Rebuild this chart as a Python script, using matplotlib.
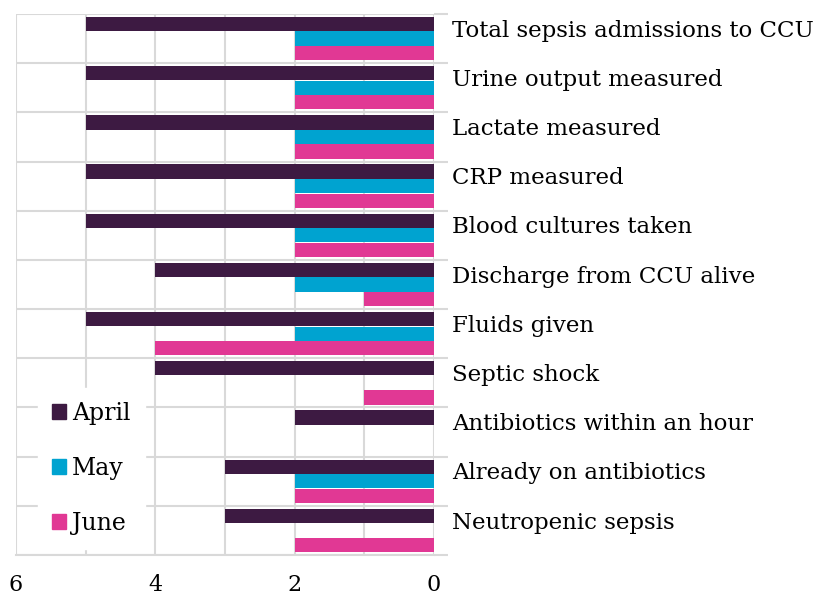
import numpy as np
import matplotlib.pyplot as plt
from matplotlib.patches import Patch
from matplotlib.ticker import MultipleLocator
from matplotlib.transforms import blended_transform_factory

# данные, сверху вниз
categories = ["Total sepsis admissions to CCU", "Urine output measured",
              "Lactate measured", "CRP measured", "Blood cultures taken",
              "Discharge from CCU alive", "Fluids given", "Septic shock",
              "Antibiotics within an hour", "Already on antibiotics",
              "Neutropenic sepsis"]
april = [5, 5, 5, 5, 5, 4, 5, 4, 2, 3, 3]
may = [2, 2, 2, 2, 2, 2, 2, 0, 0, 2, 0]
june = [2, 2, 2, 2, 2, 1, 4, 1, 0, 2, 2]
months = ["April", "May", "June"]
colors = ["#3D1A42", "#00A3D0", "#E13894"]

plt.rcParams['font.family'] = ['DejaVu Serif']

fig = plt.figure(figsize=(8.2, 5.99), dpi=100)
ax = fig.add_axes([16/820, 1 - 555/599, (434 - 16)/820, (555 - 14)/599])

y = np.arange(len(categories))
h = 0.29
for vals, off, c in zip([april, may, june], [-0.295, 0, 0.295], colors):
    ax.barh(y + off, vals, height=h, color=c, zorder=3)

ax.set_xlim(6, 0)
ax.set_ylim(len(categories) - 0.5, -0.5)

# сетка
ax.xaxis.set_major_locator(MultipleLocator(2))
ax.xaxis.set_minor_locator(MultipleLocator(1))
ax.set_yticks(np.arange(len(categories) + 1) - 0.5)
ax.set_yticklabels([])
ax.grid(True, which='both', axis='x', color='#D9D9D9', lw=1.5, zorder=0)
ax.grid(True, axis='y', color='#D9D9D9', lw=1.5, zorder=0)
ax.yaxis.tick_right()
ax.tick_params(axis='y', which='major', length=10, width=1.5, color='#D9D9D9', direction='out')
ax.tick_params(axis='x', which='both', length=0, pad=14, labelsize=16)
for s in ['top', 'right', 'left']:
    ax.spines[s].set_visible(False)
ax.spines['bottom'].set_color('#D9D9D9')
ax.spines['bottom'].set_linewidth(1.5)

# подписи категорий справа
tr = blended_transform_factory(ax.transAxes, ax.transData)
for i, name in enumerate(categories):
    ax.text(1.043, i - 0.16, name, transform=tr, ha='left', va='center', fontsize=16.5)

handles = [Patch(color=c) for c in colors]
leg = ax.legend(handles, months, loc='lower left', bbox_to_anchor=(0.035, -0.002),
                fontsize=17, frameon=True, fancybox=False, handlelength=0.6,
                handleheight=0.6, handletextpad=0.25, labelspacing=1.35,
                borderpad=0.6, borderaxespad=0.3)
leg.get_frame().set_edgecolor('white')
leg.get_frame().set_facecolor('white')
leg.get_frame().set_alpha(1)
leg.set_zorder(5)

fig.savefig("out.png", dpi=100)
